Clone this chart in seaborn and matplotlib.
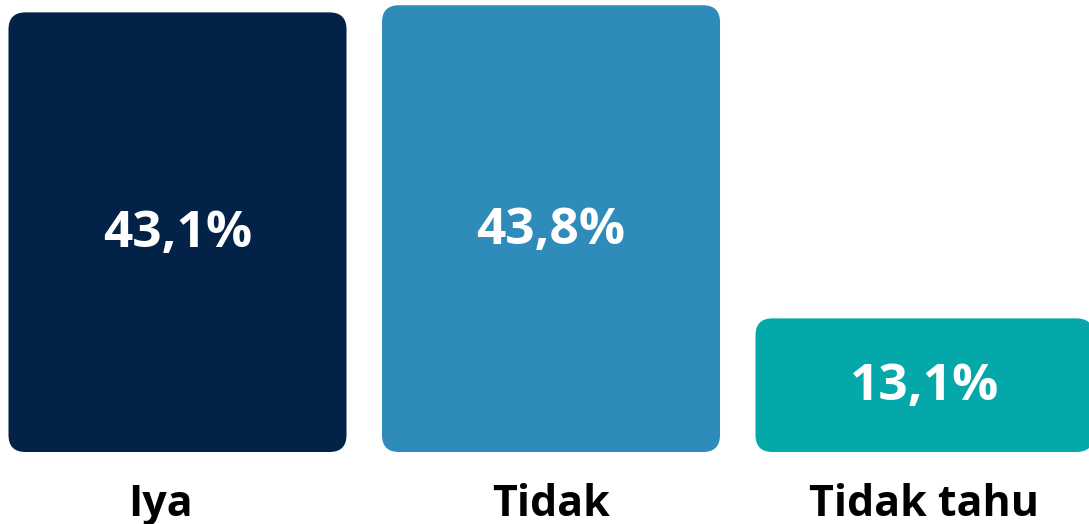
import matplotlib
matplotlib.use("Agg")
import matplotlib.pyplot as plt
import matplotlib.transforms as mtransforms
from matplotlib.patches import FancyBboxPatch
import seaborn as sns
import pandas as pd

categories = ["Iya", "Tidak", "Tidak tahu"]
values = [43.1, 43.8, 13.1]
value_labels = ["43,1%", "43,8%", "13,1%"]
colors = ["#022247", "#2E8BBA", "#05A8A8"]

sns.set_theme(style="white")
plt.rcParams["font.family"] = ["Open Sans", "DejaVu Sans"]

df = pd.DataFrame({"cat": categories, "val": values})

W, H = 1089, 524
fig = plt.figure(figsize=(W / 100, H / 100), dpi=100)
base_px = 452
ax = fig.add_axes([0, (H - base_px) / H, 1, base_px / H])

sns.barplot(data=df, x="cat", y="val", hue="cat", palette=colors,
            width=0.905, legend=False, ax=ax, saturation=1)

px_per_x = 373.5
px_per_y = 10.2
ax.set_xlim(-177.5 / px_per_x, (W - 177.5) / px_per_x)
ax.set_ylim(0, base_px / px_per_y)

radius_px = 17
aspect = px_per_x / px_per_y
for p in list(ax.patches):
    x, y = p.get_x(), p.get_y()
    w, h = p.get_width(), p.get_height()
    fc = p.get_facecolor()
    p.remove()
    fb = FancyBboxPatch((x, y), w, h,
                        boxstyle=f"round,pad=0,rounding_size={radius_px / px_per_x}",
                        mutation_aspect=aspect, facecolor=fc, edgecolor="none")
    ax.add_patch(fb)

for i, (v, lab) in enumerate(zip(values, value_labels)):
    ax.text(i, v / 2 - 0.2, lab, ha="center", va="center", color="white",
            fontsize=37, fontweight="bold")

for s in ax.spines.values():
    s.set_visible(False)
ax.set_xlabel("")
ax.set_ylabel("")
ax.set_yticks([])
ax.tick_params(axis="x", length=0, pad=22)
ax.set_xticks(range(len(categories)))
ax.set_xticklabels(categories, fontsize=31, fontweight="bold", color="black")
lbls = ax.get_xticklabels()
lbls[0].set_transform(lbls[0].get_transform() +
                      mtransforms.ScaledTranslation(-17 / 100, 0, fig.dpi_scale_trans))

fig.savefig("out.png", dpi=100)
